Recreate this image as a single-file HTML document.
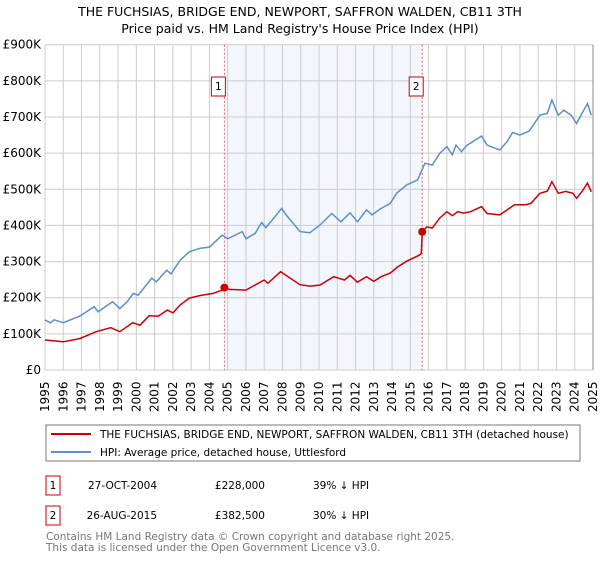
<!DOCTYPE html>
<html><head><meta charset="utf-8"><style>
body{margin:0;width:600px;height:560px;background:#fff;font-family:"Liberation Sans","DejaVu Sans",sans-serif;overflow:hidden}
svg text{font-family:"DejaVu Sans","Liberation Sans",sans-serif}
</style></head><body>
<svg id="c" width="600" height="560">
<text x="300" y="16" text-anchor="middle" font-size="12.5">THE FUCHSIAS, BRIDGE END, NEWPORT, SAFFRON WALDEN, CB11 3TH</text>
<text x="300" y="33" text-anchor="middle" font-size="12.5">Price paid vs. HM Land Registry's House Price Index (HPI)</text>
<g id="plot"></g>
<rect x="46" y="425" width="534" height="36" fill="#fff" stroke="#777"/>
<line x1="51" y1="434" x2="91" y2="434" stroke="#cc0000" stroke-width="2"/>
<text x="100" y="438" font-size="10.5">THE FUCHSIAS, BRIDGE END, NEWPORT, SAFFRON WALDEN, CB11 3TH (detached house)</text>
<line x1="51" y1="452" x2="91" y2="452" stroke="#5b8fd0" stroke-width="2"/>
<text x="100" y="456" font-size="10.5">HPI: Average price, detached house, Uttlesford</text>
<rect x="46" y="476" width="14" height="19" fill="#fff" stroke="#cc0000"/>
<text x="53" y="489" text-anchor="middle" font-size="10.5">1</text>
<text x="157" y="489" text-anchor="end" font-size="10.5">27-OCT-2004</text>
<text x="265" y="489" text-anchor="end" font-size="10.5">£228,000</text>
<text x="313" y="489" font-size="10.5">39% ↓ HPI</text>
<rect x="46" y="506" width="14" height="19" fill="#fff" stroke="#cc0000"/>
<text x="53" y="519" text-anchor="middle" font-size="10.5">2</text>
<text x="157" y="519" text-anchor="end" font-size="10.5">26-AUG-2015</text>
<text x="265" y="519" text-anchor="end" font-size="10.5">£382,500</text>
<text x="313" y="519" font-size="10.5">30% ↓ HPI</text>
<text x="46" y="540" font-size="10.5" fill="#777">Contains HM Land Registry data © Crown copyright and database right 2025.</text>
<text x="46" y="551" font-size="10.5" fill="#777">This data is licensed under the Open Government Licence v3.0.</text>
</svg>
<script>
const yearTicks=[1995,1996,1997,1998,1999,2000,2001,2002,2003,2004,2005,2006,2007,2008,2009,2010,2011,2012,2013,2014,2015,2016,2017,2018,2019,2020,2021,2022,2023,2024,2025];
const valueTicks=[0,100000,200000,300000,400000,500000,600000,700000,800000,900000];
const valueTickLabels=["£0","£100K","£200K","£300K","£400K","£500K","£600K","£700K","£800K","£900K"];
const hpiYears=[1995.0,1995.3,1995.5,1996.0,1996.9,1997.7,1997.9,1998.7,1999.1,1999.5,1999.83,2000.1,2000.84,2001.1,2001.66,2001.9,2002.4,2002.9,2003.5,2004.0,2004.7,2005.0,2005.8,2006.0,2006.5,2006.86,2007.1,2007.96,2008.2,2008.96,2009.5,2010.05,2010.7,2011.2,2011.7,2012.1,2012.6,2012.9,2013.4,2013.9,2014.25,2014.8,2015.4,2015.8,2016.2,2016.6,2017.0,2017.3,2017.5,2017.8,2018.1,2018.9,2019.2,2019.9,2020.3,2020.6,2021.0,2021.5,2022.1,2022.5,2022.75,2023.1,2023.4,2023.8,2024.1,2024.4,2024.7,2024.9];
const hpiValues=[138,131,139,131,149,175,161,189,170,189,212,207,254,244,276,266,304,327,337,340,373,363,383,363,378,408,394,447,429,383,380,401,433,410,435,410,443,429,447,461,489,512,526,572,567,599,618,595,622,604,622,647,622,609,632,657,650,661,705,710,747,705,719,705,682,710,737,705];
const priceYears=[1995.0,1996.0,1996.9,1997.8,1998.6,1999.1,1999.8,2000.2,2000.7,2001.2,2001.7,2002.0,2002.4,2002.9,2003.5,2004.2,2004.7,2004.82,2005.1,2006.0,2007.0,2007.2,2007.9,2008.96,2009.5,2010.05,2010.8,2011.4,2011.7,2012.1,2012.6,2013.0,2013.4,2013.9,2014.3,2014.8,2015.5,2015.6,2015.65,2015.9,2016.2,2016.6,2017.0,2017.3,2017.6,2017.9,2018.3,2018.9,2019.2,2019.9,2020.3,2020.7,2021.3,2021.6,2022.1,2022.5,2022.75,2023.1,2023.5,2023.9,2024.1,2024.4,2024.7,2024.9];
const priceValues=[83,78,87,106,117,106,131,124,150,149,166,158,180,199,206,212,221,228,223,221,249,240,272,236,232,235,258,249,262,243,258,245,258,268,285,301,318,323,382,396,393,420,438,427,438,434,438,452,433,429,443,457,457,461,489,495,521,489,494,489,475,494,517,493];
const saleYears=[2004.82,2015.65];
const saleValues=[228000,382500];
const saleLabels=["1","2"];
const NS="http://www.w3.org/2000/svg";
const X0=45,X1=593,Y0=370,Y1=44.7;
const xs=y=>X0+(y-1995)/30*(X1-X0);
const ys=v=>Y0-v/900000*(Y0-Y1);
const g=document.getElementById('plot');
function mk(t,a){const e=document.createElementNS(NS,t);for(const k in a)e.setAttribute(k,a[k]);g.appendChild(e);return e;}
let sh=mk('rect',{x:xs(saleYears[0]),y:Y1,width:xs(saleYears[1])-xs(saleYears[0]),height:Y0-Y1,fill:'#eef3fc',opacity:0.7});


yearTicks.forEach(yr=>{
 const l=mk('line',{x1:xs(yr),x2:xs(yr),y1:Y1,y2:Y0,stroke:'#ccc','stroke-width':1});
 
 
 const t=mk('text',{transform:`translate(${xs(yr)+4},${Y0+42}) rotate(-90)`,'font-size':12});
 t.textContent=yr;
 
 
});
valueTicks.forEach((v,i)=>{
 const l=mk('line',{x1:X0,x2:X1,y1:ys(v),y2:ys(v),stroke:'#ccc','stroke-width':1});
 
 
 const t=mk('text',{x:X0-4,y:ys(v)+4,'font-size':12,'text-anchor':'end'});
 t.textContent=valueTickLabels[i];
 
 
});
const ax=mk('line',{x1:X1,x2:X1,y1:Y1,y2:Y0,stroke:'#888'});


saleYears.forEach((yr,i)=>{
 const l=mk('line',{x1:xs(yr),x2:xs(yr),y1:Y1,y2:Y0,stroke:'#e06060','stroke-dasharray':'2,2'});
 
 
 const r=mk('rect',{x:xs(yr)-13,y:77,width:14,height:19,fill:'#fff',stroke:'#cc0000'});
 
 
 const t=mk('text',{x:xs(yr)-6,y:90,'font-size':10.5,'text-anchor':'middle'});
 t.textContent=saleLabels[i];
});
const path=(xa,va)=>xa.map((y,i)=>(i?'L':'M')+xs(y).toFixed(1)+','+ys(va[i]*1000).toFixed(1)).join('');
const hp=mk('path',{d:path(hpiYears,hpiValues),fill:'none',stroke:'#5b8fd0','stroke-width':1.5});


const pp=mk('path',{d:path(priceYears,priceValues),fill:'none',stroke:'#cc0000','stroke-width':1.5});


saleYears.forEach((yr,i)=>{
 const c=mk('circle',{cx:xs(yr),cy:ys(saleValues[i]),r:4,fill:'#cc0000'});
 
 
});
</script>
</body></html>
